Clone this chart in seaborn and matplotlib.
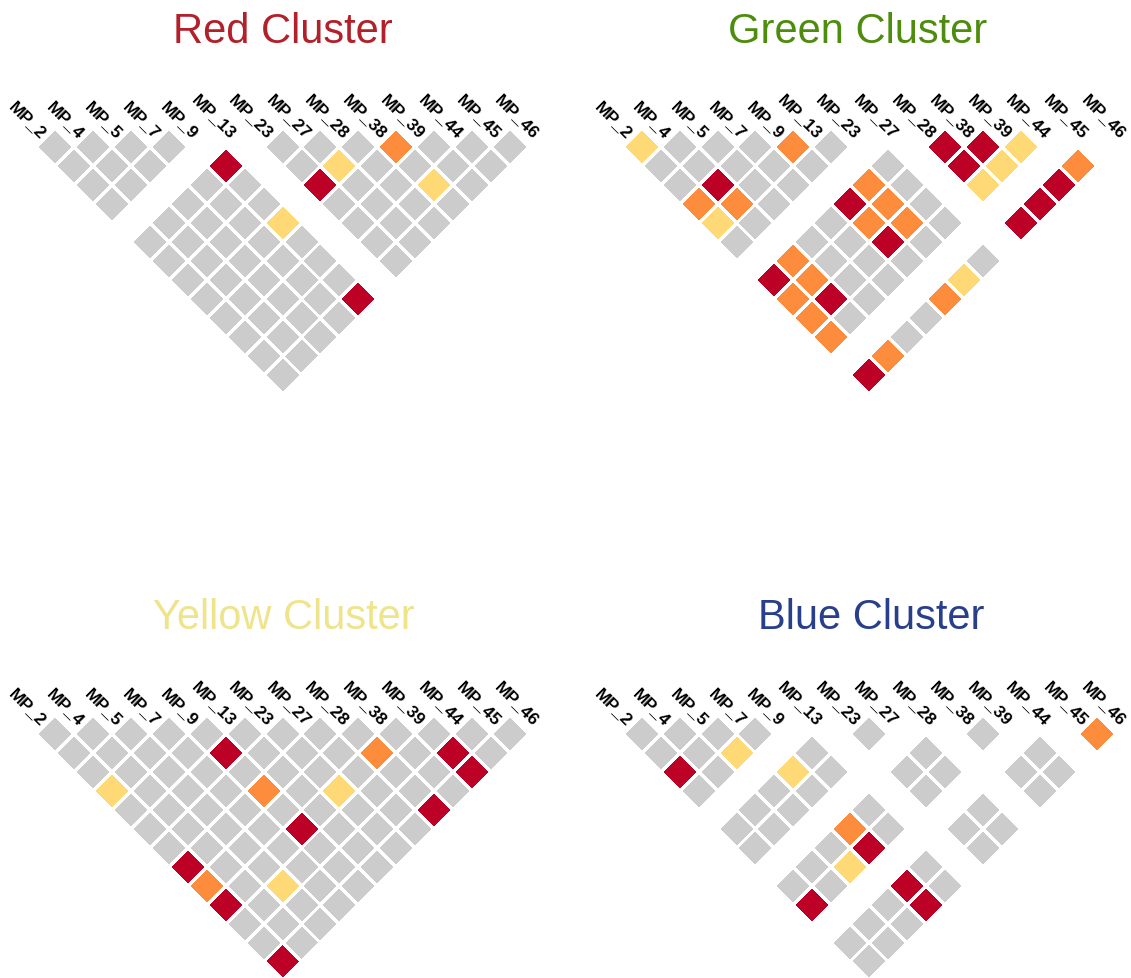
import numpy as np
import pandas as pd
import matplotlib
matplotlib.use("Agg")
import matplotlib.pyplot as plt
from matplotlib.colors import ListedColormap
from matplotlib.transforms import Affine2D
import seaborn as sns

# Marker names along the top of every triangle
markers = ["MP_2", "MP_4", "MP_5", "MP_7", "MP_9", "MP_13", "MP_23",
           "MP_27", "MP_28", "MP_38", "MP_39", "MP_44", "MP_45", "MP_46"]

# Pairwise LD class, one string per marker i, listing pairs (i, j) for j > i.
# '0' low (grey), '1' moderate (yellow), '2' high (orange), '3' very high (red),
# '-' pair not computed.
red_rows = [
    "0000-00000000",
    "000-00000000",
    "00-00000000",
    "0-00000000",
    "-30010003",
    "--------",
    "0030000",
    "010000",
    "00000",
    "2010",
    "000",
    "00",
    "0",
]
green_rows = [
    "100210-3222-3",
    "00320-2230-2",
    "0000-0000-0",
    "000-0000-0",
    "20-3230-2",
    "0-2220-1",
    "-0000-0",
    "------",
    "331-3",
    "31-3",
    "1-3",
    "-2",
    "-",
]
yellow_rows = [
    "0001000323003",
    "000000000000",
    "00000000100",
    "0000000000",
    "030203000",
    "00000000",
    "0001000",
    "000000",
    "02003",
    "0000",
    "033",
    "00",
    "0",
]
blue_rows = [
    "0030-00-03-00",
    "000-00-00-00",
    "01-00-01-00",
    "0-10-23-33",
    "-00-00-00",
    "--------",
    "0-00-00",
    "-00-00",
    "-----",
    "0-00",
    "-00",
    "--",
    "2",
]

titles = ["Red Cluster", "Green Cluster", "Yellow Cluster", "Blue Cluster"]
title_colors = ["#B2202A", "#4D8C0C", "#EFE48C", "#283F8C"]
ld_colors = ["#CCCCCC", "#FED976", "#FD8D3C", "#BD0026"]


def ld_frame(rows):
    n = len(markers)
    m = np.full((n, n), np.nan)
    for i, row in enumerate(rows):
        for k, ch in enumerate(row):
            if ch != "-":
                m[i, i + 1 + k] = float(ch)
    return pd.DataFrame(m, index=markers, columns=markers)


sns.set_theme(style="white")
plt.rcParams["font.family"] = ["Liberation Sans", "DejaVu Sans"]

W, H = 1131, 979
fig = plt.figure(figsize=(W / 100, H / 100), dpi=100)

unit = 37.92                      # pixels per marker step
origins = [(17.1, 129.3), (603.8, 129.3), (17.1, 716.0), (603.8, 716.0)]
title_pos = [(283, 43), (858, 43), (284, 629), (871, 629)]
u_max, v_max = 14.0, 7.3

# rotate the square heatmap by 45 degrees: (col, row) -> (u, v)
rot = Affine2D(np.array([[0.5, 0.5, 0.0],
                         [0.5, -0.5, 0.0],
                         [0.0, 0.0, 1.0]]))
cmap = ListedColormap(ld_colors)

for rows, (ox, oy), title, tcol, (tx, ty) in zip(
        [red_rows, green_rows, yellow_rows, blue_rows], origins,
        titles, title_colors, title_pos):
    w_px, h_px = u_max * unit, v_max * unit
    ax = fig.add_axes([ox / W, 1 - (oy + h_px) / H, w_px / W, h_px / H])
    sns.heatmap(ld_frame(rows), ax=ax, cmap=cmap, vmin=-0.5, vmax=3.5,
                cbar=False, linewidths=1.1, linecolor="white",
                xticklabels=False, yticklabels=False)
    mesh = ax.collections[0]
    mesh.set_transform(rot + ax.transData)
    ax.set_xlim(0, u_max)
    ax.set_ylim(v_max, 0)
    ax.set_axis_off()
    for k, name in enumerate(markers):
        ax.text(k + 0.69, 0.19, name, rotation=-45, rotation_mode="anchor",
                ha="right", va="center", fontsize=12.5, fontweight="bold",
                color="black", clip_on=False)
    fig.text(tx / W, 1 - ty / H, title, ha="center", va="baseline",
             fontsize=30, color=tcol)

fig.savefig("out.png", dpi=100)
